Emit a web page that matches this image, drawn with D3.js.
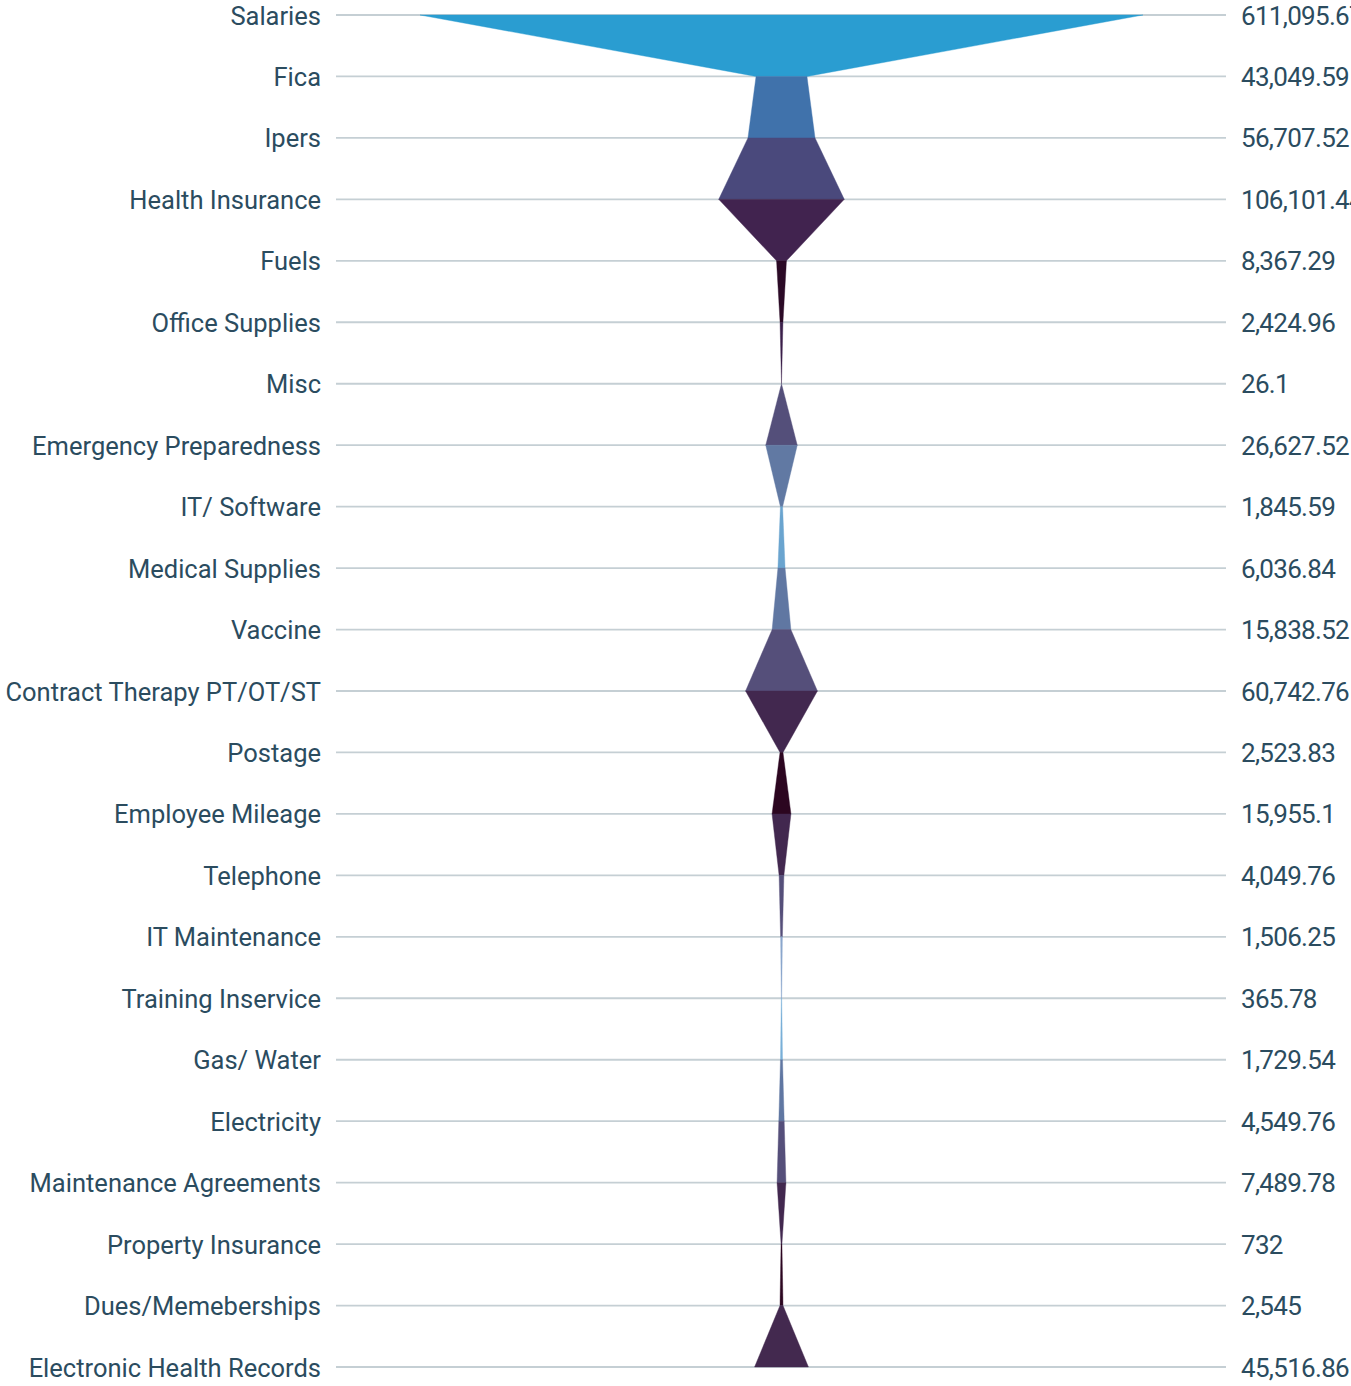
<!DOCTYPE html>
<html>
<head>
<meta charset="utf-8">
<script src="https://cdn.jsdelivr.net/npm/d3@7"></script>
<style>
  html, body { margin: 0; padding: 0; background: #ffffff; overflow: hidden; }
  svg { display: block; }
  text { font-family: Roboto, "Noto Sans", sans-serif; fill: #2b4c5f; }
</style>
</head>
<body>
<svg id="chart" width="1351" height="1386"></svg>
<script>
// ---- data ----
const categories = [
  "Salaries", "Fica", "Ipers", "Health Insurance", "Fuels", "Office Supplies", "Misc",
  "Emergency Preparedness", "IT/ Software", "Medical Supplies", "Vaccine",
  "Contract Therapy PT/OT/ST", "Postage", "Employee Mileage", "Telephone",
  "IT Maintenance", "Training Inservice", "Gas/ Water", "Electricity",
  "Maintenance Agreements", "Property Insurance", "Dues/Memeberships",
  "Electronic Health Records"
];
const values = [
  611095.67, 43049.59, 56707.52, 106101.44, 8367.29, 2424.96, 26.1,
  26627.52, 1845.59, 6036.84, 15838.52,
  60742.76, 2523.83, 15955.1, 4049.76,
  1506.25, 365.78, 1729.54, 4549.76,
  7489.78, 732, 2545,
  45516.86
];
const valueLabels = [
  "611,095.67", "43,049.59", "56,707.52", "106,101.44", "8,367.29", "2,424.96", "26.1",
  "26,627.52", "1,845.59", "6,036.84", "15,838.52",
  "60,742.76", "2,523.83", "15,955.1", "4,049.76",
  "1,506.25", "365.78", "1,729.54", "4,549.76",
  "7,489.78", "732", "2,545",
  "45,516.86"
];

// ---- style ----
const segmentColors = [
  "#2a9dd1", "#4072ab", "#4a497c", "#41234f", "#2b0a26", "#3a1f4a",
  "#544f7a", "#6179a3", "#6aa4cf", "#6077a2", "#554f7a", "#42284f",
  "#2c0620", "#42284f", "#554f7a", "#8aa6cc", "#7ab0d8", "#6077a2",
  "#554f7a", "#42284f", "#2c0620", "#43294f"
];

const svg = d3.select("#chart");
const centerX = 781.5;
const gridX0 = 336, gridX1 = 1226;

const y = d3.scalePoint().domain(categories).range([15, 1367]);
const w = d3.scaleLinear().domain([0, d3.max(values)]).range([0, 723]);

// grid lines
svg.append("g").selectAll("line").data(categories).join("line")
  .attr("x1", gridX0).attr("x2", gridX1)
  .attr("y1", d => y(d)).attr("y2", d => y(d))
  .attr("stroke", "#c5cfd4").attr("stroke-width", 1.8);

// segments
const area = d3.area()
  .x0(d => centerX - w(d.v) / 2)
  .x1(d => centerX + w(d.v) / 2)
  .y(d => y(d.c))
  .curve(d3.curveLinear);

const segs = d3.range(categories.length - 1).map(i => ({
  pts: [{c: categories[i], v: values[i]}, {c: categories[i + 1], v: values[i + 1]}],
  color: segmentColors[i]
}));

svg.append("g").selectAll("path").data(segs).join("path")
  .attr("d", d => area(d.pts))
  .attr("fill", d => d.color)
  .attr("stroke", d => d.color)
  .attr("stroke-width", 0.4);

// left labels
svg.append("g").selectAll("text").data(categories).join("text")
  .attr("x", 321)
  .attr("y", d => y(d) + 9.5)
  .attr("text-anchor", "end")
  .attr("font-size", 25.5)
  .text(d => d);

// right value labels
svg.append("g").selectAll("text").data(categories).join("text")
  .attr("x", 1241)
  .attr("y", d => y(d) + 9.5)
  .attr("text-anchor", "start")
  .attr("font-size", 26)
  .attr("letter-spacing", -0.7)
  .text((d, i) => valueLabels[i]);
</script>
</body>
</html>
